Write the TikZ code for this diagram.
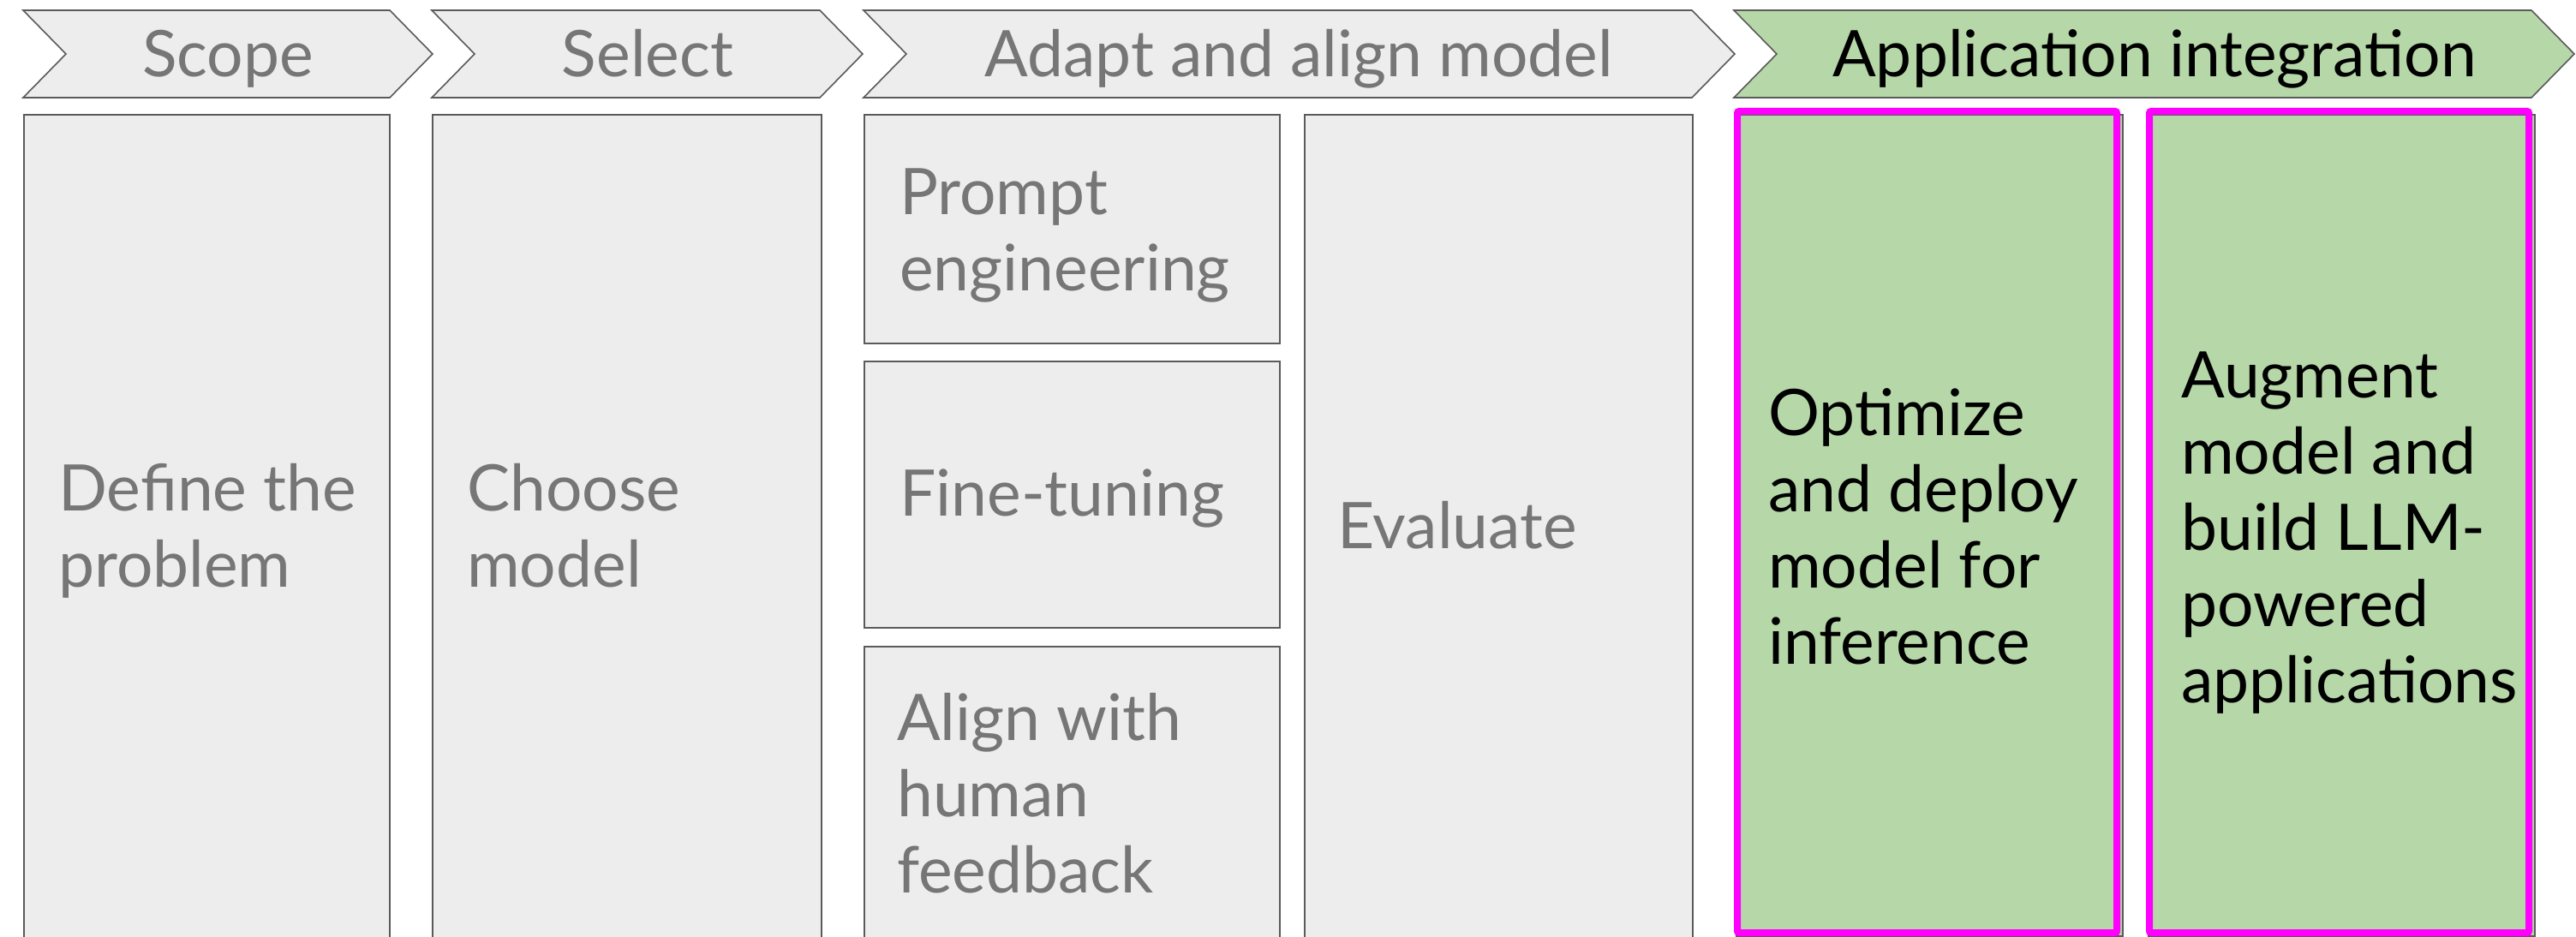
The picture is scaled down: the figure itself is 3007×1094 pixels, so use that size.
\documentclass[tikz,border=0pt]{standalone}
\usepackage{fontspec}
\setmainfont{Lato}
\definecolor{boxfill}{HTML}{EDEDED}
\definecolor{boxline}{HTML}{5A5A5A}
\definecolor{txtgray}{HTML}{767676}
\definecolor{greenfill}{HTML}{B6D7A8}
\definecolor{hilite}{HTML}{FF00FF}
\tikzset{
  chevshape/.style={draw=boxline, line width=1.6pt, fill=boxfill},
  greenchev/.style={chevshape, fill=greenfill},
  headtxt/.style={anchor=base, inner sep=0pt, text=txtgray, font=\fontsize{75}{89}\selectfont},
  greybox/.style={draw=boxline, line width=1.6pt, fill=boxfill, anchor=north west, inner sep=0pt},
  greenbox/.style={greybox, fill=greenfill},
  boxtxt/.style={anchor=base west, inner sep=0pt, align=left, text=txtgray, font=\fontsize{75}{89}\selectfont},
  hiliteframe/.style={draw=hilite, line width=8pt, rounded corners=2pt}
}
\newcommand\mychev[4]{% style, left, right, name
  \path[#1] (#2,12) -- (#3,12) -- ({#3+50},63) -- (#3,114) -- (#2,114) -- ({#2+50},63) -- cycle;
  \coordinate (#4) at ({(#2+#3+50)/2},63);
}
\begin{document}
\begin{tikzpicture}[x=1pt,y=-1pt]
\clip (0,0) rectangle (3007,1094);
\fill[white] (0,0) rectangle (3007,1094);

% header chevrons
\mychev{chevshape}{27}{455}{cscope}
\mychev{chevshape}{504}{957}{cselect}
\mychev{chevshape}{1008}{1975}{cadapt}
\mychev{greenchev}{2024}{2955}{capp}
\node[headtxt] (hscope) at (266,90) {Scope};
\node[headtxt] (hselect) at (756,90) {Select};
\node[headtxt] (hadapt) at (1516,90) {Adapt and align model};
\node[headtxt, text=black] (happ) at (2515,90) {Application integration};

% grey boxes
\node[greybox, minimum width=427pt, minimum height=1000pt] (define) at (27,133) {};
\node[greybox, minimum width=454pt, minimum height=1000pt] (choose) at (504,133) {};
\node[greybox, minimum width=485pt, minimum height=267pt] (prompt) at (1008,133) {};
\node[greybox, minimum width=485pt, minimum height=311pt] (fine) at (1008,421) {};
\node[greybox, minimum width=485pt, minimum height=400pt] (align) at (1008,754) {};
\node[greybox, minimum width=453pt, minimum height=1000pt] (evaluate) at (1522,133) {};

% green boxes
\node[greenbox, minimum width=451pt, minimum height=959pt] (optimize) at (2026,133) {};
\node[greenbox, minimum width=451pt, minimum height=959pt] (augment) at (2507,133) {};
\draw[hiliteframe] (2028,130) rectangle (2471,1089);
\draw[hiliteframe] (2509,130) rectangle (2952,1089);

% texts (base anchor = baseline of last line)
\node[boxtxt] (tdefine) at (68,685) {Define the\\problem};
\node[boxtxt] (tchoose) at (545,685) {Choose\\model};
\node[boxtxt] (tprompt) at (1050,339) {Prompt\\engineering};
\node[boxtxt] (tfine) at (1050,602) {Fine-tuning};
\node[boxtxt] (talign) at (1047,1042) {Align with\\human\\feedback};
\node[boxtxt] (teval) at (1561,640) {Evaluate};
\node[boxtxt, text=black] (topt) at (2064,775) {Optimize\\and deploy\\model for\\inference};
\node[boxtxt, text=black] (taug) at (2546,820) {Augment\\model and\\build LLM-\\powered\\applications};
\end{tikzpicture}
\end{document}
